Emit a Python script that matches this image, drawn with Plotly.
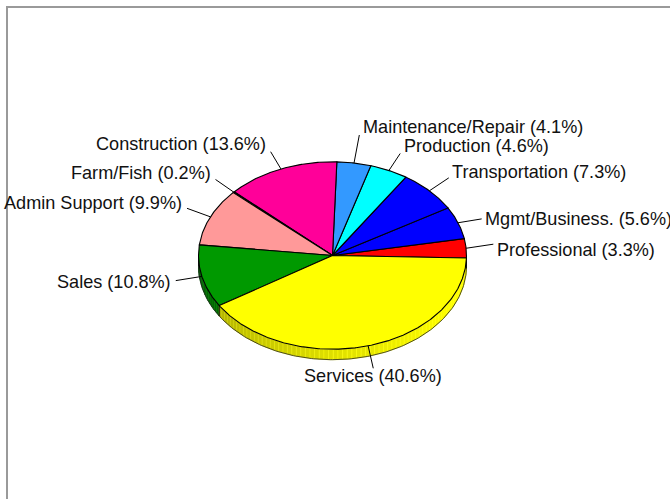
import numpy as np
import plotly.graph_objects as go

# Occupation shares (percent), listed counter-clockwise from 3 o'clock
categories = ["Professional", "Mgmt/Business.", "Transportation", "Production",
              "Maintenance/Repair", "Construction", "Farm/Fish", "Admin Support",
              "Sales", "Services"]
shares = [3.3, 5.6, 7.3, 4.6, 4.1, 13.6, 0.2, 9.9, 10.8, 40.6]
slice_colors = ["#FF0000", "#0000FF", "#0000FF", "#00FFFF", "#3399FF",
                "#FF0099", "#7F3F00", "#FF9999", "#009900", "#FFFF00"]

# canvas / pie geometry (axis units == pixels)
W, H = 670, 499
CX, CY = 332.5, 255.5
RX, RY = 134.0, 93.7
DEPTH = 10.5
START = -1.5          # degrees
LABEL_K = 1.2
FONT = dict(family="Liberation Sans, Arial, Helvetica, sans-serif", size=18.1, color="#111111")

vals = np.array(shares, dtype=float)
bounds = START + 360.0 * np.concatenate([[0.0], np.cumsum(vals)]) / vals.sum()


def pt(a_deg, k=1.0, dy=0.0):
    a = np.radians(a_deg)
    return CX + k * RX * np.cos(a), CY - k * RY * np.sin(a) + dy


def shade(hex_col, f):
    h = hex_col.lstrip("#")
    r, g, b = (int(h[i:i + 2], 16) for i in (0, 2, 4))
    return "rgb({},{},{})".format(int(min(255, r * f)), int(min(255, g * f)), int(min(255, b * f)))


def side_factor(a):
    t = min(max((a - 180.0) / 180.0, 0.0), 1.0)
    return 0.45 + 0.6 * t ** 0.5


fig = go.Figure()

# ---- front wall of the pie (visible for angles 180..360) ----
for i, col in enumerate(slice_colors):
    b0, b1 = bounds[i], bounds[i + 1]
    lo, hi = max(b0, 180.0), min(b1, 360.0)
    if hi <= lo:
        continue
    edges = np.arange(lo, hi, 2.0).tolist() + [hi]
    for a0, a1 in zip(edges[:-1], edges[1:]):
        arc = np.linspace(a0, a1, 6)
        xs_top, ys_top = pt(arc)
        xs_bot, ys_bot = pt(arc[::-1], dy=DEPTH)
        xs = np.concatenate([xs_top, xs_bot, xs_top[:1]])
        ys = np.concatenate([ys_top, ys_bot, ys_top[:1]])
        f = side_factor((a0 + a1) / 2)
        fig.add_trace(go.Scatter(
            x=xs, y=ys, mode="lines", fill="toself",
            fillcolor=shade(col, f),
            line=dict(color=shade(col, f * 1.12), width=0.6),
            hoverinfo="skip"))

# wall outline: bottom rim and the vertical seams
rim = np.linspace(180, 360, 181)
rx_, ry_ = pt(rim, dy=DEPTH)
fig.add_trace(go.Scatter(x=rx_, y=ry_, mode="lines",
                         line=dict(color="#222222", width=0.8), hoverinfo="skip"))
seams_x, seams_y = [], []
for a in [180.0, 360.0] + [b for b in bounds if 180.0 < b < 360.0]:
    x0, y0 = pt(a)
    seams_x += [x0, x0, None]
    seams_y += [y0, y0 + DEPTH, None]
fig.add_trace(go.Scatter(x=seams_x, y=seams_y, mode="lines",
                         line=dict(color="#111111", width=1), hoverinfo="skip"))

# ---- top face slices ----
for i, col in enumerate(slice_colors):
    arc = np.linspace(bounds[i], bounds[i + 1], max(4, int((bounds[i + 1] - bounds[i]) * 2)))
    ax, ay = pt(arc)
    xs = np.concatenate([[CX], ax, [CX]])
    ys = np.concatenate([[CY], ay, [CY]])
    fig.add_trace(go.Scatter(
        x=xs, y=ys, mode="lines", fill="toself", fillcolor=col,
        line=dict(color="black", width=1.1), name=categories[i],
        hoverinfo="skip"))

# ---- labels with leader lines ----
# small hand offsets: (leader end dx, dy, text dy)
nudge = {"Maintenance/Repair": (1.0, -9.5, 0.0),
         "Services": (-2.0, 4.4, 0.0),
         "Professional": (0.5, -2.6, 6.0),
         "Mgmt/Business.": (-1.5, 2.7, 3.0),
         "Admin Support": (1.0, -0.8, -2.0),
         "Farm/Fish": (1.5, 0.0, -1.5)}
lead_x, lead_y = [], []
for i, cat in enumerate(categories):
    mid = (bounds[i] + bounds[i + 1]) / 2
    sx, sy = pt(mid)
    ex, ey = pt(mid, k=LABEL_K)
    dx, dy, tdy = nudge.get(cat, (0.0, 0.0, 0.0))
    ex, ey = ex + dx, ey + dy
    lead_x += [sx, ex, None]
    lead_y += [sy, ey, None]

    s = np.sin(np.radians(mid))
    c = np.cos(np.radians(mid))
    if s < -0.9:
        anchor, tx = "center", ex
    elif c >= 0 or cat == "Maintenance/Repair":
        anchor, tx = "left", ex + 1.5
    else:
        anchor, tx = "right", ex - 3.0
    ty = ey - 8.0 * s + tdy
    fig.add_annotation(x=tx, y=ty, xref="x", yref="y",
                       text="{} ({}%)".format(cat, shares[i]),
                       showarrow=False, xanchor=anchor, yanchor="middle",
                       font=FONT)

fig.add_trace(go.Scatter(x=lead_x, y=lead_y, mode="lines",
                         line=dict(color="black", width=1), hoverinfo="skip"))

# ---- grey frame along top and left ----
fig.add_shape(type="line", x0=6, y0=7, x1=W, y1=7, xref="x", yref="y",
              line=dict(color="#9a9a9a", width=2))
fig.add_shape(type="line", x0=7, y0=6, x1=7, y1=H, xref="x", yref="y",
              line=dict(color="#9a9a9a", width=2))

fig.update_layout(
    width=W, height=H, autosize=False,
    margin=dict(l=0, r=0, t=0, b=0),
    paper_bgcolor="white", plot_bgcolor="white",
    showlegend=False, hovermode=False,
    xaxis=dict(range=[0, W], visible=False, fixedrange=True),
    yaxis=dict(range=[H, 0], visible=False, fixedrange=True),
)

fig.write_html("out.html")
